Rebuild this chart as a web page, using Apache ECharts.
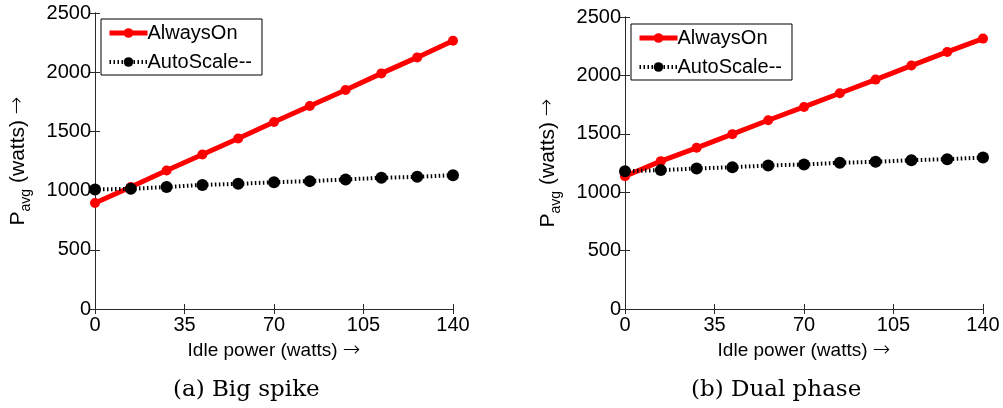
<!DOCTYPE html>
<html><head><meta charset="utf-8">
<script src="https://cdn.jsdelivr.net/npm/echarts@6/dist/echarts.min.js"></script>
<style>html,body{margin:0;padding:0;background:#fff}#c{width:1003px;height:408px}</style>
</head><body><div id="c"></div>
<script>
const idlePower = [0, 14, 28, 42, 56, 70, 84, 98, 112, 126, 140];
const xTicks = [0, 35, 70, 105, 140];
const yTicks = [0, 500, 1000, 1500, 2000, 2500];
const bigSpikeAlwaysOn = [895, 1030, 1170, 1305, 1440, 1580, 1715, 1850, 1990, 2125, 2265];
const bigSpikeAutoScale = [1010, 1015, 1030, 1048, 1057, 1071, 1080, 1094, 1108, 1116, 1130];
const dualPhaseAlwaysOn = [1137, 1266, 1380, 1497, 1616, 1730, 1847, 1964, 2084, 2201, 2315];
const dualPhaseAutoScale = [1180, 1189, 1203, 1214, 1229, 1237, 1252, 1260, 1274, 1283, 1297];
const captions = ['(a) Big spike', '(b) Dual phase'];
const seriesNames = ['AlwaysOn', 'AutoScale--'];

const FONT = 'Liberation Sans, Arial, sans-serif';
const AX = '#2a2a2a';
const grids = [
  {left: 95, right: 550, top: 13, bottom: 99},
  {left: 625, right: 20, top: 17, bottom: 99}
];
const xAxes = [], yAxes = [], series = [], legends = [], graphics = [];
const panels = [[bigSpikeAlwaysOn, bigSpikeAutoScale], [dualPhaseAlwaysOn, dualPhaseAutoScale]];
const arrowStyle = {fontSize: 21, fontFamily: 'DejaVu Sans', fontWeight: 'lighter', color: '#000'};
panels.forEach((p, i) => {
  const base = {type: 'value', gridIndex: i, min: xTicks[0], max: xTicks[xTicks.length-1], interval: 35,
    axisLine: {show: true, lineStyle: {color: AX, width: 1}}, splitLine: {show: false}};
  xAxes.push(Object.assign({}, base, {position: 'bottom',
    axisTick: {show: true, inside: true, length: 5, lineStyle: {color: AX}},
    axisLabel: {fontSize: 20, fontFamily: FONT, color: '#000', margin: 6},
    name: '{t|Idle power (watts) }{a|→}', nameLocation: 'middle', nameGap: 27,
    nameTextStyle: {fontSize: 19, fontFamily: FONT, color: '#000', rich: {
      t: {fontSize: 19, fontFamily: FONT, color: '#000'},
      a: arrowStyle
    }}}));
  xAxes.push(Object.assign({}, base, {position: 'top',
    axisTick: {show: true, inside: true, length: 5, lineStyle: {color: AX}}, axisLabel: {show: false}}));
  const ybase = {type: 'value', gridIndex: i, min: yTicks[0], max: yTicks[yTicks.length-1], interval: 500,
    axisLine: {show: true, lineStyle: {color: AX, width: 1}}, splitLine: {show: false}};
  yAxes.push(Object.assign({}, ybase, {position: 'left',
    axisTick: {show: true, inside: true, length: 5, lineStyle: {color: AX}},
    axisLabel: {fontSize: 20, fontFamily: FONT, color: '#000', margin: 4, formatter: v => String(v)},
    name: '{p|P}{s|avg}{p| (watts) }{a|→}', nameLocation: 'middle', nameGap: 62, nameRotate: 90,
    nameTextStyle: {fontFamily: FONT, color: '#000', rich: {
      p: {fontSize: 21, fontFamily: FONT, color: '#000', lineHeight: 30, verticalAlign: 'middle'},
      s: {fontSize: 14, fontFamily: FONT, color: '#000', lineHeight: 30, verticalAlign: 'bottom'},
      a: Object.assign({lineHeight: 30, verticalAlign: 'middle'}, arrowStyle)
    }}}));
  yAxes.push(Object.assign({}, ybase, {position: 'right',
    axisTick: {show: true, inside: true, length: 5, lineStyle: {color: AX}}, axisLabel: {show: false}}));
  series.push({name: seriesNames[0], type: 'line', xAxisIndex: 2*i, yAxisIndex: 2*i,
    data: idlePower.map((x, k) => [x, p[0][k]]), symbol: 'circle', symbolSize: 10,
    lineStyle: {color: '#ff0000', width: 5}, itemStyle: {color: '#ff0000'}, z: 2});
  series.push({name: seriesNames[1], type: 'line', xAxisIndex: 2*i, yAxisIndex: 2*i,
    data: idlePower.map((x, k) => [x, p[1][k]]), symbol: 'circle', symbolSize: 12,
    lineStyle: {color: '#000', width: 4, type: [1.5, 2.5]}, itemStyle: {color: '#000'}, z: 3});
  legends.push({
    data: [
      {name: seriesNames[0], lineStyle: {width: 5, color: '#ff0000'}, itemStyle: {color: '#ff0000'}},
      {name: seriesNames[1], lineStyle: {width: 4, color: '#000', type: [1.5, 2.5]}, itemStyle: {color: '#000'}}
    ],
    orient: 'vertical', left: i === 0 ? 101 : 631, top: i === 0 ? 19 : 24,
    itemWidth: 38, itemHeight: 12, itemGap: 9, padding: [4, 10, 3, 6],
    borderColor: '#000', borderWidth: 1, backgroundColor: '#fff',
    textStyle: {fontSize: 20, fontFamily: FONT, color: '#000', padding: [0, 0, 0, -5]}});
  graphics.push({type: 'text', left: i === 0 ? 173 : 691, top: 379,
    style: {text: captions[i], font: '23px "DejaVu Serif", serif', fill: '#000'}});
});

const chart = echarts.init(document.getElementById('c'), null, {renderer: 'canvas'});
chart.setOption({
  animation: false,
  grid: grids,
  xAxis: xAxes, yAxis: yAxes, series: series, legend: legends, graphic: graphics
});
</script></body></html>
